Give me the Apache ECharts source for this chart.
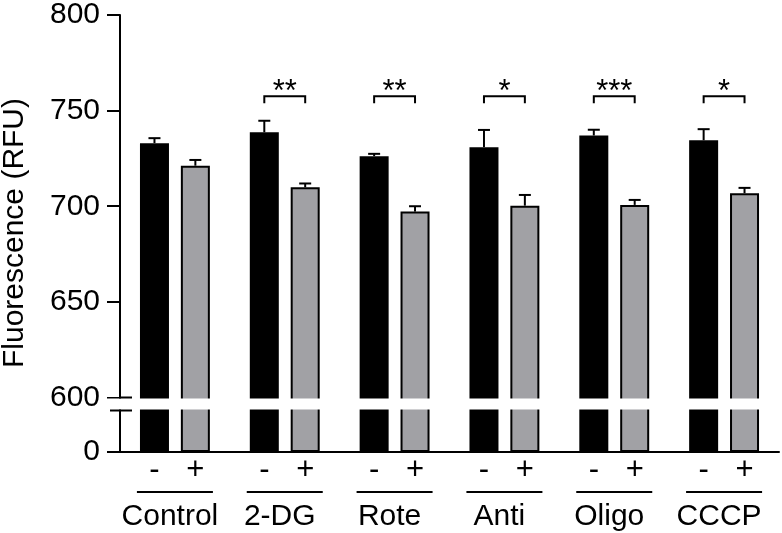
<!DOCTYPE html>
<html><head><meta charset="utf-8">
<script src="https://cdn.jsdelivr.net/npm/echarts@6/dist/echarts.min.js"></script>
<style>html,body{margin:0;padding:0;background:#fff}#c{width:782px;height:533px}</style>
</head><body><div id="c"></div>
<script>
// ---- data ----
const groups = ['Control', '2-DG', 'Rote', 'Anti', 'Oligo', 'CCCP'];
const treatLabels = ['-', '+'];
const minusMean = [733.0, 738.7, 726.2, 730.9, 737.0, 734.5];
const minusErr  = [2.6, 6.0, 1.2, 9.0, 3.0, 5.8];
const plusMean  = [721.2, 709.9, 697.2, 700.3, 700.7, 706.8];
const plusErr   = [3.0, 2.0, 2.8, 5.6, 2.6, 2.8];
const sigStars  = ['', '**', '**', '*', '***', '*'];
const sigLevel  = [757.5, 757.5, 757.5, 757.5, 757.5, 757.5];
const upperTicks = [600, 650, 700, 750, 800];
const lowerTicks = [0];
const axisTitle = 'Fluorescence (RFU)';

// ---- style ----
const FONT = '"Liberation Sans", Arial, Helvetica, sans-serif';
const BAR_W = 29, GAP_PCT = 41;
const OFF = BAR_W * (1 + GAP_PCT / 100) / 2;
const GRAY = '#a1a1a5';

const chart = echarts.init(document.getElementById('c'), null, {renderer: 'canvas'});

function errSeries(mean, err, sign) {
  return {
    type: 'custom', xAxisIndex: 0, yAxisIndex: 0, z: 5,
    data: mean.map((m, i) => [i, m, err[i]]),
    renderItem: function (params, api) {
      const i = api.value(0), m = api.value(1), e = api.value(2);
      const p0 = api.coord([i, m]), p1 = api.coord([i, m + e]);
      const x = p0[0] + sign * OFF;
      const st = {stroke: '#000', lineWidth: 2};
      return {type: 'group', children: [
        {type: 'line', shape: {x1: x, y1: p0[1], x2: x, y2: p1[1]}, style: st},
        {type: 'line', shape: {x1: x - 6, y1: p1[1], x2: x + 6, y2: p1[1]}, style: st}
      ]};
    }
  };
}

const option = {
  animation: false,
  grid: [
    {left: 120, top: 13, width: 659, height: 388.3},
    {left: 120, top: 407.5, width: 659, height: 44.5}
  ],
  xAxis: [
    {type: 'category', gridIndex: 0, data: groups, show: false},
    {type: 'category', gridIndex: 1, data: groups,
     axisLine: {show: true, lineStyle: {color: '#000', width: 2}},
     axisTick: {show: false},
     axisLabel: {color: '#000', fontSize: 30, fontFamily: FONT, margin: 50, interval: 0, padding: [0, 10, 0, 0]}}
  ],
  yAxis: [
    {type: 'value', gridIndex: 0, min: 598, max: 800,
     axisLine: {show: true, lineStyle: {color: '#000', width: 2}},
     axisTick: {show: true, length: 13, customValues: upperTicks, lineStyle: {color: '#000', width: 2}},
     axisLabel: {color: '#000', fontSize: 30, fontFamily: FONT, margin: 20, customValues: upperTicks},
     splitLine: {show: false}},
    {type: 'value', gridIndex: 1, min: 0, max: 100,
     axisLine: {show: true, lineStyle: {color: '#000', width: 2}},
     axisTick: {show: true, length: 13, customValues: lowerTicks, lineStyle: {color: '#000', width: 2}},
     axisLabel: {color: '#000', fontSize: 30, fontFamily: FONT, margin: 20, customValues: lowerTicks},
     splitLine: {show: false}}
  ],
  series: [
    {type: 'bar', xAxisIndex: 0, yAxisIndex: 0, data: minusMean, barWidth: BAR_W, barGap: GAP_PCT + '%', clip: true,
     itemStyle: {color: '#000'}},
    {type: 'bar', xAxisIndex: 0, yAxisIndex: 0, data: plusMean, barWidth: BAR_W, barGap: GAP_PCT + '%', clip: true,
     itemStyle: {color: GRAY, borderColor: '#000', borderWidth: 2}},
    {type: 'bar', xAxisIndex: 1, yAxisIndex: 1, data: minusMean, barWidth: BAR_W, barGap: GAP_PCT + '%', clip: true,
     itemStyle: {color: '#000'}},
    {type: 'bar', xAxisIndex: 1, yAxisIndex: 1, data: plusMean, barWidth: BAR_W, barGap: GAP_PCT + '%', clip: true,
     itemStyle: {color: GRAY, borderColor: '#000', borderWidth: 2}},
    errSeries(minusMean, minusErr, -1),
    errSeries(plusMean, plusErr, 1),
    {type: 'custom', xAxisIndex: 0, yAxisIndex: 0, z: 6,
     data: sigLevel.map((v, i) => [i, v]),
     renderItem: function (params, api) {
       const i = api.value(0);
       if (!sigStars[i]) return null;
       const p = api.coord([i, api.value(1)]);
       const xl = p[0] - OFF, xr = p[0] + OFF, y = p[1];
       return {type: 'group', children: [
         {type: 'polyline', shape: {points: [[xl, y + 7], [xl, y], [xr, y], [xr, y + 7]]},
          style: {stroke: '#000', lineWidth: 2, fill: null}},
         {type: 'text', x: p[0], y: y - 4,
          style: {text: sigStars[i], fill: '#000', font: '31px ' + FONT, align: 'center', verticalAlign: 'middle'}}
       ]};
     }},
    {type: 'custom', xAxisIndex: 1, yAxisIndex: 1, z: 6,
     data: groups.map((g, i) => [i, 0]),
     renderItem: function (params, api) {
       const p = api.coord([api.value(0), 0]);
       const c = p[0], y = p[1];
       const ts = (t, x) => ({type: 'text', x: x, y: y + 18,
         style: {text: t, fill: '#000', font: '31px ' + FONT, align: 'center', verticalAlign: 'middle'}});
       return {type: 'group', children: [
         ts(treatLabels[0], c - OFF),
         ts(treatLabels[1], c + OFF),
         {type: 'line', shape: {x1: c - 38, y1: y + 40, x2: c + 38, y2: y + 40},
          style: {stroke: '#000', lineWidth: 2}}
       ]};
     }}
  ],
  graphic: [
    {type: 'rect', z: 100, shape: {x: 100, y: 398.5, width: 682, height: 11}, style: {fill: '#fff'}},
    {type: 'line', z: 101, shape: {x1: 119, y1: 397.5, x2: 132, y2: 397.5}, style: {stroke: '#000', lineWidth: 2}},
    {type: 'line', z: 101, shape: {x1: 110, y1: 410.5, x2: 132, y2: 410.5}, style: {stroke: '#000', lineWidth: 2}},
    {type: 'text', z: 101, x: 15, y: 233, rotation: Math.PI / 2,
     style: {text: axisTitle, fill: '#000', font: '30px ' + FONT, align: 'center', verticalAlign: 'middle'}}
  ]
};
chart.setOption(option);
</script>
</body></html>
